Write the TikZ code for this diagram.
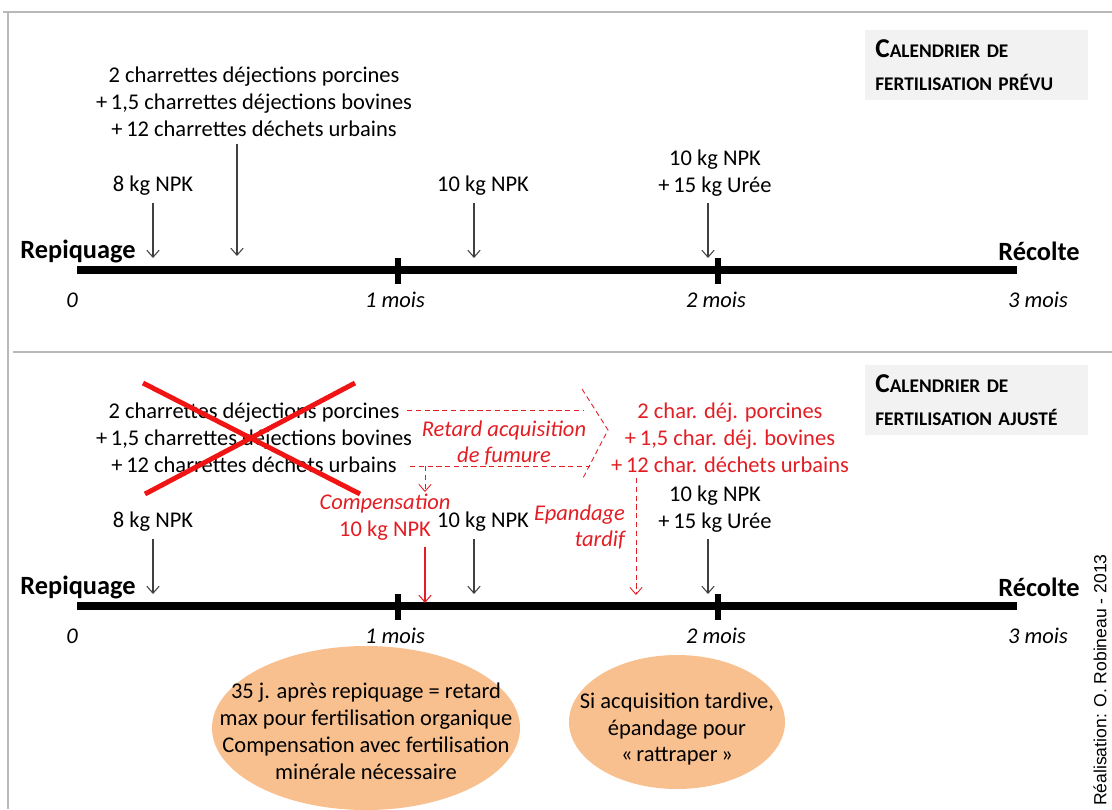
\documentclass[tikz,border=0pt]{standalone}
\usepackage{fontspec}
\setmainfont{Carlito}
\newfontfamily\creditfont{Liberation Sans}
\usepackage{xcolor}
\usetikzlibrary{positioning,calc,arrows.meta,shapes.geometric}

\definecolor{framegray}{RGB}{185,185,185}
\definecolor{boxgray}{RGB}{242,242,242}
\definecolor{redc}{RGB}{226,30,36}
\definecolor{crossred}{RGB}{240,20,20}
\definecolor{peach}{RGB}{249,192,143}

\newcommand{\bigC}{{\fontsize{15.5}{17}\selectfont C}}
\newcommand{\smc}[1]{{\fontsize{11}{17}\selectfont #1}}

\begin{document}
\begin{tikzpicture}[x=0.02cm, y=-0.02cm,
  txt/.style={align=center, inner sep=0pt, outer sep=4pt, font=\fontsize{12.8}{15.3}\selectfont},
  redtxt/.style={txt, text=redc},
  redit/.style={txt, text=redc, font=\fontsize{12.8}{15.3}\selectfont\itshape},
  endlbl/.style={inner sep=0pt, font=\fontsize{15}{17}\selectfont\bfseries},
  month/.style={inner sep=0pt, font=\fontsize{12.8}{14}\selectfont\itshape},
  axis/.style={line width=4.5pt},
  ticks/.style={line width=3.4pt},
  arr/.style={-{Straight Barb[length=4pt,width=7pt]}, draw=black!75, line width=0.6pt},
  redarr/.style={arr, draw=redc},
  reddash/.style={draw=redc, dash pattern=on 3pt off 2pt, line width=0.5pt},
  crossline/.style={draw=crossred, line width=2.8pt},
  titlebox/.style={fill=boxgray, anchor=west, align=left, inner xsep=0.2cm, inner ysep=0pt, minimum width=4.46cm, minimum height=1.4cm, text width=4.06cm, font=\bfseries\fontsize{11}{19}\selectfont},
  bubbletxt/.style={inner sep=0pt, align=center, font=\fontsize{12.8}{15.3}\selectfont}]

\useasboundingbox (0,0) rectangle (1112,809);

% frame
\draw[framegray, line width=1.2pt] (3,12) -- (1112,12);
\draw[framegray, line width=1.2pt] (8,12) -- (8,809);
\draw[framegray, line width=0.9pt] (13,352) -- (1112,352);

% planned calendar
\node[titlebox] (titleA) at (865,65) {\bigC\smc{ALENDRIER DE}\\\smc{FERTILISATION PRÉVU}};

\coordinate (sA) at (77,270);
\coordinate (eA) at (1017,270);
\draw[axis] (sA) -- (eA);
\draw[ticks] (398,258) -- (398,284);
\draw[ticks] (718,258) -- (718,284);

\node[endlbl] (repA) at (78,251) {Repiquage};
\node[endlbl] (recA) at (1039,251) {Récolte};
\node[month] (m0A) at (72,300) {0};
\node[month] (m1A) at (395,300) {1 mois};
\node[month] (m2A) at (716,300) {2 mois};
\node[month] (m3A) at (1038,300) {3 mois};

\node[txt] (npkA1) at (153,186) {8 kg NPK};
\node[txt] (manA) at (254,102) {2 charrettes déjections porcines\\+\,1,5 charrettes déjections bovines\\+\,12 charrettes déchets urbains};
\node[txt] (npkA2) at (483,186) {10 kg NPK};
\node[txt] (npkA3) at (715,173) {10 kg NPK\\+\,15 kg Urée};

\coordinate (pA1) at (153,258);
\coordinate (pA2) at (237,256);
\coordinate (pA3) at (474,258);
\coordinate (pA4) at (708,258);
\draw[arr] (npkA1.south -| pA1) -- (pA1);
\draw[arr] (manA.south -| pA2) -- (pA2);
\draw[arr] (npkA2.south -| pA3) -- (pA3);
\draw[arr] (npkA3.south -| pA4) -- (pA4);

% adjusted calendar
\node[titlebox] (titleB) at (865,400) {\bigC\smc{ALENDRIER DE}\\\smc{FERTILISATION AJUSTÉ}};

\coordinate (sB) at (77,606);
\coordinate (eB) at (1017,606);
\draw[axis] (sB) -- (eB);
\draw[ticks] (398,594) -- (398,620);
\draw[ticks] (718,594) -- (718,620);

\node[endlbl] (repB) at (78,587) {Repiquage};
\node[endlbl] (recB) at (1039,587) {Récolte};
\node[month] (m0B) at (72,636) {0};
\node[month] (m1B) at (395,636) {1 mois};
\node[month] (m2B) at (716,636) {2 mois};
\node[month] (m3B) at (1038,636) {3 mois};

\node[txt] (manB) at (254,438) {2 charrettes déjections porcines\\+\,1,5 charrettes déjections bovines\\+\,12 charrettes déchets urbains};
\draw[crossline] (143,383) -- (360,494);
\draw[crossline] (355,383) -- (145,494);

\node[redit] (late) at (504,443) {Retard acquisition\\de fumure};
\node[redtxt] (newB) at (730,438) {2 char. déj. porcines\\+\,1,5 char. déj. bovines\\+\,12 char. déchets urbains};

\coordinate (d1) at (407,410);
\coordinate (d2) at (584,410);
\coordinate (d3) at (410,466);
\coordinate (d4) at (590,466);
\coordinate (c1) at (582,389);
\coordinate (c2) at (608,430);
\coordinate (c3) at (582,480);
\draw[reddash] (d1) -- (d2);
\draw[reddash] (d3) -- (d4);
\draw[reddash] (c1) -- (c2) -- (c3);

\node[txt, text=redc, font=\fontsize{12.8}{15.3}\selectfont] (comp) at (385,517) {\textit{Compensation}\\10 kg NPK};
\coordinate (q1) at (425,466);
\draw[reddash, -{Straight Barb[length=4pt,width=7pt]}] (q1) -- (425,492);
\coordinate (pB0) at (425,603);
\draw[redarr] (comp.south -| pB0) -- (pB0);

\node[redit, anchor=east, align=right] (epand) at (632,527) {Epandage\\tardif};
\coordinate (q2) at (636,478);
\coordinate (pB5) at (636,595);
\draw[reddash, -{Straight Barb[length=4pt,width=7pt]}] (q2) -- (pB5);

\node[txt] (npkB1) at (153,522) {8 kg NPK};
\node[txt] (npkB2) at (483,522) {10 kg NPK};
\node[txt] (npkB3) at (715,509) {10 kg NPK\\+\,15 kg Urée};

\coordinate (pB1) at (153,594);
\coordinate (pB3) at (474,594);
\coordinate (pB4) at (708,594);
\draw[arr] (npkB1.south -| pB1) -- (pB1);
\draw[arr] (npkB2.south -| pB3) -- (pB3);
\draw[arr] (npkB3.south -| pB4) -- (pB4);

% notes
\fill[peach] (366,728) ellipse [x radius=154, y radius=82];
\fill[peach] (677,722) ellipse [x radius=108, y radius=67];
\node[bubbletxt] (org) at (366,731) {35 j. après repiquage = retard\\max pour fertilisation organique\\Compensation avec fertilisation\\minérale nécessaire};
\node[bubbletxt] (rat) at (677,729) {Si acquisition tardive,\\épandage pour\\«\,rattraper\,»};

\node[rotate=90, inner sep=0pt, font=\creditfont\fontsize{10}{11}\selectfont] (credit) at (1100,680) {Réalisation: O. Robineau - 2013};
\end{tikzpicture}
\end{document}
